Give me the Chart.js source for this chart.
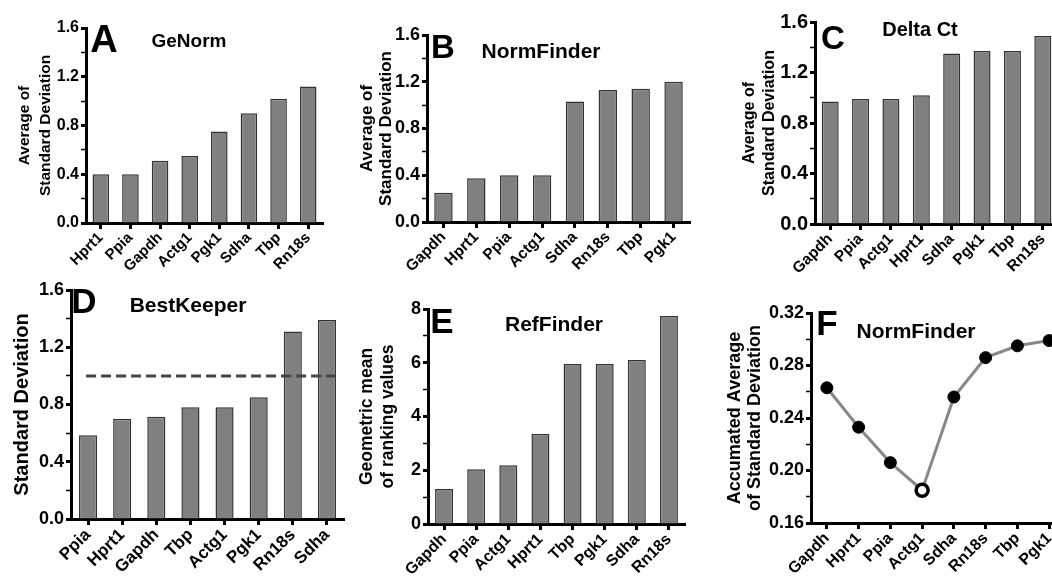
<!DOCTYPE html>
<html>
<head>
<meta charset="utf-8">
<script src="https://cdn.jsdelivr.net/npm/chart.js@4.4.1/dist/chart.umd.min.js"></script>
<style>
  html, body { margin: 0; padding: 0; background: #fff; }
  body { width: 1052px; height: 581px; position: relative; overflow: hidden; font-family: 'Liberation Sans', Arial, sans-serif; }
  canvas { position: absolute; }
  .lbl { position: absolute; font-weight: bold; line-height: 1; color: #000; white-space: nowrap; transform: translate(-50%, -50%); }
</style>
</head>
<body>
<canvas id="chartA" width="340" height="290" style="left:0px;top:0px"></canvas>
<canvas id="chartB" width="350" height="290" style="left:350px;top:0px"></canvas>
<canvas id="chartC" width="380" height="290" style="left:700px;top:0px"></canvas>
<canvas id="chartD" width="350" height="311" style="left:0px;top:270px"></canvas>
<canvas id="chartE" width="350" height="311" style="left:350px;top:270px"></canvas>
<canvas id="chartF" width="380" height="311" style="left:700px;top:270px"></canvas>

<div class="lbl" style="left:104px;top:39px;font-size:38px">A</div>
<div class="lbl" style="left:189px;top:40px;font-size:19px">GeNorm</div>
<div class="lbl" style="left:443px;top:46px;font-size:33px">B</div>
<div class="lbl" style="left:541px;top:50px;font-size:21px">NormFinder</div>
<div class="lbl" style="left:833px;top:37px;font-size:33px">C</div>
<div class="lbl" style="left:920px;top:29px;font-size:20px">Delta Ct</div>
<div class="lbl" style="left:84px;top:300px;font-size:35px">D</div>
<div class="lbl" style="left:188px;top:304px;font-size:21px">BestKeeper</div>
<div class="lbl" style="left:442px;top:320px;font-size:35px">E</div>
<div class="lbl" style="left:554px;top:323px;font-size:21px">RefFinder</div>
<div class="lbl" style="left:827px;top:322px;font-size:35px">F</div>
<div class="lbl" style="left:916px;top:330px;font-size:21px">NormFinder</div>

<script>
// data
const genormGenes = ['Hprt1', 'Ppia', 'Gapdh', 'Actg1', 'Pgk1', 'Sdha', 'Tbp', 'Rn18s'];
const genormValues = [0.40, 0.40, 0.51, 0.55, 0.75, 0.90, 1.02, 1.12];

const normfinderGenes = ['Gapdh', 'Hprt1', 'Ppia', 'Actg1', 'Sdha', 'Rn18s', 'Tbp', 'Pgk1'];
const normfinderValues = [0.25, 0.375, 0.40, 0.40, 1.03, 1.13, 1.14, 1.20];

const deltaCtGenes = ['Gapdh', 'Ppia', 'Actg1', 'Hprt1', 'Sdha', 'Pgk1', 'Tbp', 'Rn18s'];
const deltaCtValues = [0.97, 0.99, 0.99, 1.02, 1.35, 1.37, 1.37, 1.49];

const bestKeeperGenes = ['Ppia', 'Hprt1', 'Gapdh', 'Tbp', 'Actg1', 'Pgk1', 'Rn18s', 'Sdha'];
const bestKeeperValues = [0.585, 0.70, 0.715, 0.78, 0.78, 0.85, 1.31, 1.39];
const bestKeeperCutoff = 1.0;

const refFinderGenes = ['Gapdh', 'Ppia', 'Actg1', 'Hprt1', 'Tbp', 'Pgk1', 'Sdha', 'Rn18s'];
const refFinderValues = [1.30, 2.04, 2.19, 3.35, 5.95, 5.95, 6.10, 7.74];

const accumGenes = ['Gapdh', 'Hprt1', 'Ppia', 'Actg1', 'Sdha', 'Rn18s', 'Tbp', 'Pgk1'];
const accumValues = [0.263, 0.233, 0.206, 0.185, 0.256, 0.286, 0.295, 0.299];
const accumOptimal = 'Actg1';

// tick labels (major ticks; a minor tick sits between each pair)
const sdTicks = ['0.0', '0.4', '0.8', '1.2', '1.6'];
const rankTicks = ['0', '2', '4', '6', '8'];
const accumTicks = ['0.16', '0.20', '0.24', '0.28', '0.32'];

Chart.defaults.font.family = "'Liberation Sans', Arial, sans-serif";
Chart.defaults.color = '#000';

function yAxis(c) {
    const min = parseFloat(c.ticks[0]);
    const max = parseFloat(c.ticks[c.ticks.length - 1]);
    return {
        min: min,
        max: max,
        afterFit: s => { s.width = c.width; },
        border: { display: true, color: '#000', width: 3 },
        grid: {
            drawOnChartArea: false, drawTicks: true, tickLength: 5, tickColor: '#000',
            tickWidth: ctx => (ctx.index % 2 === 0 ? 3 : 1.5)
        },
        ticks: {
            stepSize: (max - min) / ((c.ticks.length - 1) * 2),
            autoSkip: false, color: '#000', padding: 2,
            font: { size: c.tickSize, weight: 'bold' },
            callback: (v, i) => (i % 2 === 0 ? c.ticks[i / 2] : '')
        },
        title: {
            display: true, text: c.title, color: '#000',
            padding: { top: c.titlePad, bottom: 0 },
            font: { size: c.titleSize, weight: 'bold', lineHeight: c.titleLH }
        }
    };
}

function xAxis(c) {
    return {
        offset: true,
        afterFit: s => { s.height = c.height; },
        border: { display: true, color: '#000', width: 3 },
        grid: { display: true, drawOnChartArea: false, offset: false, tickLength: 6, tickWidth: 3, tickColor: '#000' },
        ticks: {
            autoSkip: false, maxRotation: 45, minRotation: 45, color: '#000', padding: 0,
            font: { size: c.labelSize, weight: 'bold' }
        }
    };
}

function barPanel(id, labels, values, p, plugins) {
    const el = document.getElementById(id);
    if (!el) return null;
    return new Chart(el.getContext('2d'), {
        type: 'bar',
        data: {
            labels: labels,
            datasets: [{
                data: values,
                backgroundColor: '#808080',
                borderColor: '#333333',
                borderWidth: 1.5,
                barPercentage: p.bar,
                categoryPercentage: 1
            }]
        },
        options: {
            responsive: false,
            animation: false,
            devicePixelRatio: 1,
            layout: { padding: { left: 0, top: p.top, right: p.right, bottom: 0 } },
            plugins: { legend: { display: false }, tooltip: { enabled: false } },
            scales: { x: xAxis(p.x), y: yAxis(p.y) }
        },
        plugins: plugins || []
    });
}

// A - GeNorm
barPanel('chartA', genormGenes, genormValues, {
    bar: 0.56, top: 28, right: 17,
    x: { height: 67, labelSize: 15 },
    y: { ticks: sdTicks, width: 86, tickSize: 16, title: ['Average of', 'Standard Deviation'], titlePad: 15, titleSize: 15.5, titleLH: 1.3 }
});

// B - NormFinder
barPanel('chartB', normfinderGenes, normfinderValues, {
    bar: 0.56, top: 35, right: 10,
    x: { height: 68, labelSize: 15.5 },
    y: { ticks: sdTicks, width: 77, tickSize: 18, title: ['Average of', 'Standard Deviation'], titlePad: 8, titleSize: 17, titleLH: 1.1 }
});

// C - Delta Ct
barPanel('chartC', deltaCtGenes, deltaCtValues, {
    bar: 0.56, top: 22, right: 22,
    x: { height: 66, labelSize: 15.5 },
    y: { ticks: sdTicks, width: 115, tickSize: 20, title: ['Average of', 'Standard Deviation'], titlePad: 40, titleSize: 16, titleLH: 1.25 }
});

// D - BestKeeper, with dashed cutoff line
const cutoffLine = {
    id: 'cutoffLine',
    afterDatasetsDraw(chart) {
        const { ctx, scales: { x, y } } = chart;
        const meta = chart.getDatasetMeta(0);
        const last = meta.data[meta.data.length - 1];
        const yy = y.getPixelForValue(bestKeeperCutoff);
        ctx.save();
        ctx.strokeStyle = '#444';
        ctx.lineWidth = 3;
        ctx.setLineDash([10, 5]);
        ctx.beginPath();
        ctx.moveTo(x.getPixelForValue(0) - 2, yy);
        ctx.lineTo(last.x + last.width / 2, yy);
        ctx.stroke();
        ctx.restore();
    }
};
barPanel('chartD', bestKeeperGenes, bestKeeperValues, {
    bar: 0.53, top: 20, right: 6,
    x: { height: 62, labelSize: 17 },
    y: { ticks: sdTicks, width: 71, tickSize: 18, title: 'Standard Deviation', titlePad: 10, titleSize: 20, titleLH: 1.2 }
}, [cutoffLine]);

// E - RefFinder
barPanel('chartE', refFinderGenes, refFinderValues, {
    bar: 0.56, top: 39, right: 15,
    x: { height: 57, labelSize: 16 },
    y: { ticks: rankTicks, width: 78, tickSize: 18, title: ['Geometric mean', 'of ranking values'], titlePad: 7, titleSize: 17.5, titleLH: 1.2 }
});

// F - NormFinder accumulated SD
const fEl = document.getElementById('chartF');
if (fEl) {
    new Chart(fEl.getContext('2d'), {
        type: 'line',
        data: {
            labels: accumGenes,
            datasets: [{
                data: accumValues,
                borderColor: '#888888',
                borderWidth: 3,
                tension: 0,
                pointRadius: 6,
                pointBackgroundColor: accumGenes.map(g => (g === accumOptimal ? '#ffffff' : '#000000')),
                pointBorderColor: '#000000',
                pointBorderWidth: accumGenes.map(g => (g === accumOptimal ? 3.5 : 1))
            }]
        },
        options: {
            responsive: false,
            animation: false,
            devicePixelRatio: 1,
            layout: { padding: { left: 0, top: 43, right: 15, bottom: 0 } },
            plugins: { legend: { display: false }, tooltip: { enabled: false } },
            scales: {
                x: xAxis({ height: 58, labelSize: 16 }),
                y: yAxis({ ticks: accumTicks, width: 111, tickSize: 18, title: ['Accumated Average', 'of Standard Deviation'], titlePad: 25, titleSize: 18, titleLH: 1.1 })
            }
        }
    });
}
</script>
</body>
</html>
